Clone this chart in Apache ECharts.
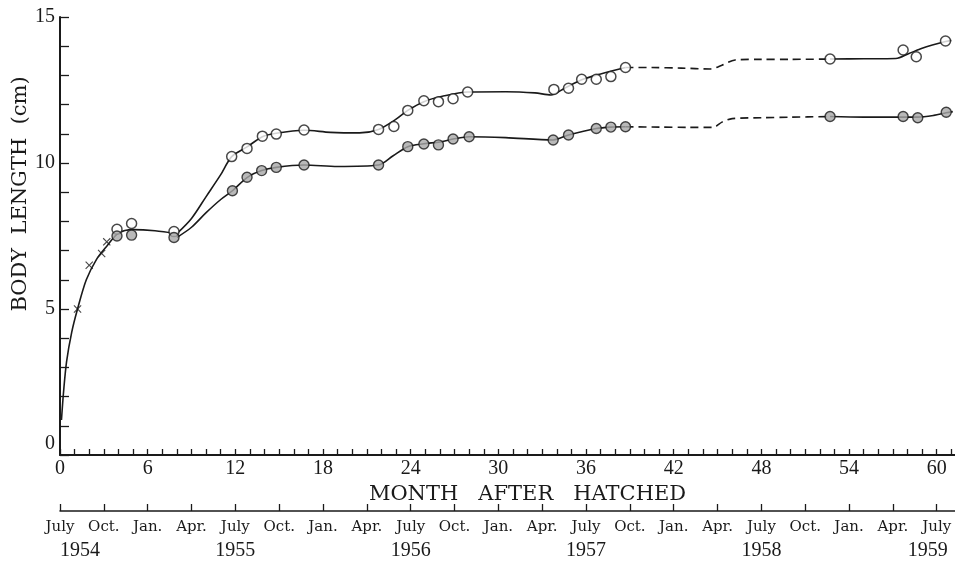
<!DOCTYPE html>
<html><head><meta charset="utf-8">
<script src="https://cdn.jsdelivr.net/npm/echarts@6/dist/echarts.min.js"></script>
<style>html,body{margin:0;padding:0;background:#fff}#c{width:955px;height:564px}</style>
</head><body><div id="c"></div>
<script>
// ---- observed points ----
const crossMonths = [1.2, 2.0, 2.85, 3.2];
const crossLen    = [5.0, 6.5, 6.9, 7.3];

const upperMonths = [3.9, 4.9, 7.8, 11.75, 12.8, 13.85, 14.8, 16.7, 21.8, 22.85, 23.8, 24.9, 25.9, 26.9, 27.9, 33.8, 34.8, 35.7, 36.7, 37.7, 38.7, 52.7, 57.7, 58.6, 60.6];
const upperLen    = [7.73, 7.93, 7.65, 10.22, 10.5, 10.92, 10.99, 11.13, 11.15, 11.25, 11.8, 12.13, 12.1, 12.2, 12.43, 12.52, 12.56, 12.87, 12.87, 12.96, 13.27, 13.56, 13.87, 13.64, 14.18];

const lowerMonths = [3.9, 4.9, 7.8, 11.8, 12.8, 13.8, 14.8, 16.7, 21.8, 23.8, 24.9, 25.9, 26.9, 28.0, 33.75, 34.8, 36.7, 37.7, 38.7, 52.7, 57.7, 58.7, 60.65];
const lowerLen    = [7.5, 7.53, 7.45, 9.05, 9.51, 9.74, 9.85, 9.93, 9.93, 10.56, 10.65, 10.62, 10.82, 10.9, 10.79, 10.96, 11.18, 11.23, 11.24, 11.59, 11.59, 11.55, 11.74];

// ---- fitted curves ----
const earlyCurveM = [0.1, 0.25, 0.45, 0.8, 1.2, 1.8, 2.5, 3.2, 4.0, 5.0, 6.5, 8.0];
const earlyCurveV = [1.2, 2.2, 3.2, 4.2, 5.0, 6.0, 6.7, 7.15, 7.6, 7.72, 7.68, 7.58];

const upperSolidM = [8.0, 9.0, 10.0, 11.0, 11.75, 12.8, 13.85, 14.8, 16.7, 18.5, 20.5, 21.8, 23.0, 23.8, 24.9, 26.3, 27.9, 30.5, 32.5, 33.6, 34.5, 35.7, 37.0, 38.7];
const upperSolidV = [7.58, 8.1, 8.85, 9.6, 10.22, 10.55, 10.9, 11.02, 11.12, 11.05, 11.03, 11.15, 11.5, 11.8, 12.1, 12.3, 12.43, 12.44, 12.4, 12.33, 12.55, 12.85, 13.05, 13.27];
const upperDashM  = [38.7, 40.5, 42.5, 44.5, 45.3, 46.2, 48.0, 50.0, 52.7];
const upperDashV  = [13.27, 13.27, 13.25, 13.22, 13.35, 13.53, 13.55, 13.55, 13.56];
const upperEndM   = [52.7, 55.0, 57.2, 58.1, 59.0, 59.7, 60.6, 61.0];
const upperEndV   = [13.56, 13.57, 13.58, 13.75, 13.93, 14.04, 14.16, 14.2];

const lowerSolidM = [8.0, 9.0, 10.0, 11.0, 11.8, 12.8, 13.8, 14.8, 16.7, 19.0, 21.8, 22.8, 23.8, 24.9, 26.0, 26.9, 28.0, 30.5, 33.75, 34.8, 36.7, 37.7, 38.7];
const lowerSolidV = [7.45, 7.8, 8.3, 8.75, 9.05, 9.5, 9.74, 9.85, 9.93, 9.88, 9.93, 10.25, 10.56, 10.66, 10.72, 10.82, 10.9, 10.87, 10.79, 10.96, 11.18, 11.23, 11.24];
const lowerDashM  = [38.7, 41.0, 43.0, 44.7, 45.3, 46.0, 48.0, 50.0, 52.7];
const lowerDashV  = [11.24, 11.23, 11.22, 11.22, 11.4, 11.52, 11.55, 11.57, 11.59];
const lowerEndM   = [52.7, 55.0, 57.7, 58.7, 59.8, 60.65, 61.1];
const lowerEndV   = [11.59, 11.57, 11.57, 11.57, 11.63, 11.72, 11.76];

// ---- tick labels ----
const dateLabels = ['July','Oct.','Jan.','Apr.','July','Oct.','Jan.','Apr.','July','Oct.','Jan.','Apr.','July','Oct.','Jan.','Apr.','July','Oct.','Jan.','Apr.','July'];
const yearLabels = ['1954','1955','1956','1957','1958','1959'];

const pairs = (ms, vs) => ms.map((m, i) => [m, vs[i]]);
const INK = '#1a1a1a';
const FONT = 'Liberation Serif';
const FONT2 = 'DejaVu Serif';

const chart = echarts.init(document.getElementById('c'), null, {renderer: 'canvas'});

function curve(ms, vs, dashed) {
  return {
    type: 'line', data: pairs(ms, vs), smooth: 0.3,
    symbol: 'none', showSymbol: false, silent: true, z: 2,
    lineStyle: {color: INK, width: 1.6, type: dashed ? [8, 5] : 'solid'}
  };
}

const xCommon = {type: 'value', min: 0, max: 61.25, gridIndex: 0};

chart.setOption({
  animation: false,
  backgroundColor: '#fff',
  grid: {left: 60, right: 0, top: 17, bottom: 109, containLabel: false, outerBoundsMode: 'none'},
  xAxis: [
    Object.assign({}, xCommon, {
      position: 'bottom', interval: 1,
      name: 'MONTH   AFTER   HATCHED', nameLocation: 'middle', nameGap: 25,
      nameTextStyle: {fontFamily: FONT2, fontSize: 21, color: INK, padding: [0, 0, 0, 40]},
      axisLine: {show: true, onZero: false, lineStyle: {color: INK, width: 2}},
      axisTick: {show: true, inside: true, length: 6, lineStyle: {color: INK, width: 1.3}},
      axisLabel: {show: true, margin: 4, fontFamily: FONT, fontSize: 20, color: INK,
        showMaxLabel: false,
        formatter: v => (Math.abs(v % 6) < 1e-6 ? String(v) : '')},
      splitLine: {show: false}
    }),
    Object.assign({}, xCommon, {
      position: 'bottom', offset: 56, interval: 3,
      axisLine: {show: true, onZero: false, lineStyle: {color: INK, width: 1.5}},
      axisTick: {show: true, inside: true, length: 7, lineStyle: {color: INK, width: 1.3}},
      axisLabel: {show: true, margin: 9, fontFamily: FONT2, fontSize: 15, color: INK,
        showMaxLabel: false,
        formatter: v => { const i = Math.round(v / 3); return (Math.abs(v - i * 3) < 1e-6 && dateLabels[i]) ? dateLabels[i] : ''; }},
      splitLine: {show: false}
    }),
    Object.assign({}, xCommon, {
      position: 'bottom', offset: 80, interval: 12,
      axisLine: {show: false}, axisTick: {show: false},
      axisLabel: {show: true, margin: 6, fontFamily: FONT, fontSize: 20, color: INK,
        showMaxLabel: false,
        formatter: v => {
          const i = Math.round(v / 12);
          if (Math.abs(v - i * 12) > 1e-6 || !yearLabels[i]) return '';
          if (i === 0) return '{f|' + yearLabels[i] + '}';
          if (i === yearLabels.length - 1) return '{l|' + yearLabels[i] + '}';
          return yearLabels[i];
        },
        rich: {
          f: {fontFamily: FONT, fontSize: 20, color: INK, padding: [0, 0, 0, 40]},
          l: {fontFamily: FONT, fontSize: 20, color: INK, padding: [0, 18, 0, 0]}
        }},
      splitLine: {show: false}
    })
  ],
  yAxis: {
    type: 'value', min: 0, max: 15, interval: 1,
    axisLine: {show: true, onZero: false, lineStyle: {color: INK, width: 2}},
    axisTick: {show: true, inside: true, length: 9, lineStyle: {color: INK, width: 1.3}},
    axisLabel: {show: true, margin: 5, fontFamily: FONT, fontSize: 20, color: INK,
      formatter: v => { if (v % 5 !== 0) return ''; return v === 0 ? '{z|0}' : String(v); },
      rich: {z: {fontFamily: FONT, fontSize: 20, color: INK, padding: [0, 0, 22, 0]}}},
    splitLine: {show: false}
  },
  graphic: [{
    type: 'text', x: 21, y: 194, rotation: Math.PI / 2,
    style: {text: 'BODY  LENGTH  (cm)', font: '21px "DejaVu Serif"', fill: INK,
      textAlign: 'center', textVerticalAlign: 'middle'}
  }],
  series: [
    curve(earlyCurveM, earlyCurveV, false),
    curve(upperSolidM, upperSolidV, false),
    curve(upperDashM, upperDashV, true),
    curve(upperEndM, upperEndV, false),
    curve(lowerSolidM, lowerSolidV, false),
    curve(lowerDashM, lowerDashV, true),
    curve(lowerEndM, lowerEndV, false),
    {type: 'scatter', data: pairs(crossMonths, crossLen), z: 3, silent: true,
      symbol: 'path://M0,1L1,0L5,4L9,0L10,1L6,5L10,9L9,10L5,6L1,10L0,9L4,5Z', symbolSize: 8,
      itemStyle: {color: INK}},
    {type: 'scatter', data: pairs(upperMonths, upperLen), z: 4, silent: true,
      symbol: 'circle', symbolSize: 10,
      itemStyle: {color: '#fff', borderColor: INK, borderWidth: 1.5}},
    {type: 'scatter', data: pairs(lowerMonths, lowerLen), z: 4, silent: true,
      symbol: 'circle', symbolSize: 10,
      itemStyle: {color: '#a8a8a8', borderColor: INK, borderWidth: 1.4}}
  ]
});
</script></body></html>
